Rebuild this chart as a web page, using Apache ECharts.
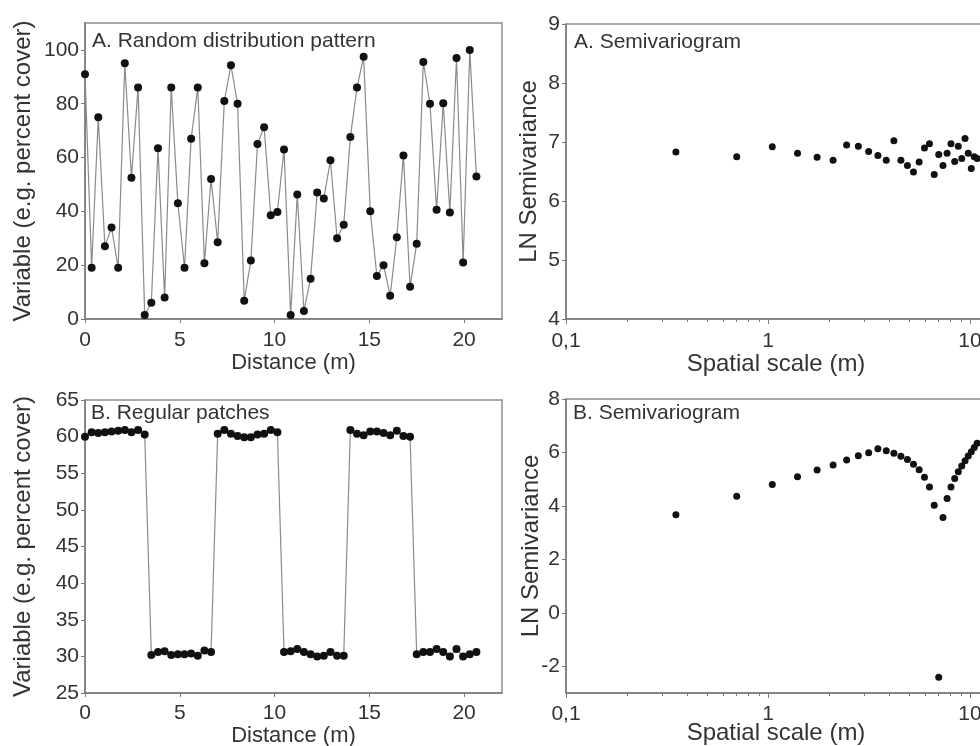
<!DOCTYPE html>
<html>
<head>
<meta charset="utf-8">
<script src="https://cdn.jsdelivr.net/npm/echarts@6/dist/echarts.min.js"></script>
<style>
html,body{margin:0;padding:0;background:#fff;}
#c{width:980px;height:746px;}
</style>
</head>
<body>
<div id="c"></div>
<script>
// ---- data ----
const distance = [0, 0.35, 0.7, 1.05, 1.4, 1.75, 2.1, 2.45, 2.8, 3.15, 3.5, 3.85, 4.2, 4.55, 4.9, 5.25, 5.6, 5.95, 6.3, 6.65,
  7, 7.35, 7.7, 8.05, 8.4, 8.75, 9.1, 9.45, 9.8, 10.15, 10.5, 10.85, 11.2, 11.55, 11.9, 12.25, 12.6, 12.95, 13.3, 13.65,
  14, 14.35, 14.7, 15.05, 15.4, 15.75, 16.1, 16.45, 16.8, 17.15, 17.5, 17.85, 18.2, 18.55, 18.9, 19.25, 19.6, 19.95, 20.3, 20.65];
const randomValues = [91, 19, 75, 27, 34, 19, 95, 52.5, 86, 1.5, 6, 63.5, 8, 86, 43, 19, 67, 86, 20.7, 52,
  28.5, 81, 94.3, 80, 6.8, 21.7, 65, 71.3, 38.6, 39.8, 63, 1.5, 46.3, 3, 15, 47, 44.8, 59, 30, 35,
  67.6, 86, 97.5, 40, 16, 20, 8.6, 30.4, 60.8, 12, 28, 95.5, 80, 40.6, 80.2, 39.6, 97, 21, 100, 53];
const patchValues = [60.0, 60.6, 60.5, 60.6, 60.7, 60.8, 60.9, 60.6, 60.9, 60.3,
  30.2, 30.6, 30.7, 30.2, 30.3, 30.3, 30.4, 30.1, 30.8, 30.6,
  60.4, 60.9, 60.4, 60.1, 59.9, 59.9, 60.3, 60.4, 60.9, 60.6,
  30.6, 30.7, 31.0, 30.6, 30.3, 30.0, 30.1, 30.6, 30.1, 30.1,
  60.9, 60.4, 60.2, 60.7, 60.7, 60.5, 60.2, 60.8, 60.1, 60.0,
  30.3, 30.6, 30.6, 31.0, 30.6, 30.0, 31.0, 30.0, 30.3, 30.6];
const lags = [0.35, 0.7, 1.05, 1.4, 1.75, 2.1, 2.45, 2.8, 3.15, 3.5, 3.85, 4.2, 4.55, 4.9, 5.25, 5.6,
  5.95, 6.3, 6.65, 7, 7.35, 7.7, 8.05, 8.4, 8.75, 9.1, 9.45, 9.8, 10.15, 10.5, 10.85];
const semiRandom = [6.83, 6.75, 6.92, 6.81, 6.74, 6.69, 6.95, 6.93, 6.84, 6.77, 6.69, 7.02, 6.69, 6.60, 6.49, 6.66,
  6.90, 6.97, 6.45, 6.79, 6.60, 6.81, 6.97, 6.67, 6.93, 6.72, 7.06, 6.81, 6.55, 6.75, 6.72];
const semiPatches = [3.67, 4.36, 4.80, 5.09, 5.34, 5.53, 5.72, 5.88, 5.99, 6.14, 6.06, 5.97, 5.86, 5.74, 5.56, 5.35,
  5.07, 4.71, 4.02, -2.41, 3.57, 4.28, 4.71, 5.03, 5.28, 5.49, 5.69, 5.87, 6.03, 6.19, 6.34];

const distTicks = [0, 5, 10, 15, 20];
const randomTicks = [0, 20, 40, 60, 80, 100];
const patchTicks = [25, 30, 35, 40, 45, 50, 55, 60, 65];
const semiRandomTicks = [4, 5, 6, 7, 8, 9];
const semiPatchTicks = [-2, 0, 2, 4, 6, 8];
const logTicks = [0.1, 1, 10];
const logMinorTicks = [0.2, 0.3, 0.4, 0.5, 0.6, 0.7, 0.8, 0.9, 2, 3, 4, 5, 6, 7, 8, 9];

const titles = ['A. Random distribution pattern', 'A. Semivariogram', 'B. Regular patches', 'B. Semivariogram'];

// ---- chart ----
const FONT = 'Liberation Sans, Arial, sans-serif';
const TXT = '#333';
const AX = '#7a7a7a';
const chart = echarts.init(document.getElementById('c'));

const zip = (xs, ys) => xs.map((x, i) => [x, ys[i]]);
const comma = v => String(v).replace('.', ',');

function linX(grid, gap, margin) {
  return {
    type: 'value', gridIndex: grid, min: 0, max: 22,
    name: 'Distance (m)', nameLocation: 'middle', nameGap: gap, nameMoveOverlap: false,
    nameTextStyle: { fontFamily: FONT, fontSize: 22, color: TXT },
    axisLine: { show: true, onZero: false, lineStyle: { color: AX, width: 1.5 } },
    axisTick: { show: true, length: 4, customValues: distTicks, lineStyle: { color: AX } },
    axisLabel: { customValues: distTicks, fontFamily: FONT, fontSize: 21, color: TXT, margin: margin },
    splitLine: { show: false }
  };
}
function logX(grid, gap, margin) {
  return {
    type: 'log', gridIndex: grid, min: 0.1, max: 12, logBase: 10,
    name: 'Spatial scale (m)', nameLocation: 'middle', nameGap: gap, nameMoveOverlap: false,
    nameTextStyle: { fontFamily: FONT, fontSize: 24, color: TXT },
    axisLine: { show: true, onZero: false, lineStyle: { color: AX, width: 1.5 } },
    axisTick: { show: true, length: 5, customValues: logTicks, lineStyle: { color: AX } },
    axisLabel: { customValues: logTicks, fontFamily: FONT, fontSize: 21, color: TXT, margin: margin, formatter: comma },
    splitLine: { show: false }
  };
}
function logMinor(grid) {
  return {
    type: 'log', gridIndex: grid, min: 0.1, max: 12, logBase: 10, position: 'bottom',
    axisLine: { show: false, onZero: false },
    axisTick: { show: true, length: 3, customValues: logMinorTicks, lineStyle: { color: AX } },
    axisLabel: { show: false },
    splitLine: { show: false }
  };
}
function yAxis(grid, min, max, ticks, name, gap, nameSize) {
  return {
    type: 'value', gridIndex: grid, min: min, max: max,
    name: name, nameLocation: 'middle', nameGap: gap, nameMoveOverlap: false,
    nameTextStyle: { fontFamily: FONT, fontSize: nameSize, color: TXT },
    axisLine: { show: true, onZero: false, lineStyle: { color: AX, width: 1.5 } },
    axisTick: { show: true, length: 4, customValues: ticks, lineStyle: { color: AX } },
    axisLabel: { customValues: ticks, fontFamily: FONT, fontSize: 21, color: TXT, margin: 6 },
    splitLine: { show: false }
  };
}

const gridBase = { show: true, borderColor: '#8f8f8f', borderWidth: 1.5, backgroundColor: 'transparent', outerBoundsMode: 'none', containLabel: false };

const option = {
  animation: false,
  backgroundColor: '#fff',
  grid: [
    Object.assign({ left: 85, top: 23, width: 417, height: 296 }, gridBase),
    Object.assign({ left: 566, top: 24, width: 420, height: 295 }, gridBase),
    Object.assign({ left: 85, top: 400, width: 417, height: 293 }, gridBase),
    Object.assign({ left: 566, top: 399, width: 420, height: 294 }, gridBase)
  ],
  title: [
    { text: titles[0], left: 92, top: 31 },
    { text: titles[1], left: 574, top: 32 },
    { text: titles[2], left: 91, top: 403 },
    { text: titles[3], left: 573, top: 403 }
  ].map(t => Object.assign(t, { padding: 0, textStyle: { fontFamily: FONT, fontSize: 21, fontWeight: 'normal', color: TXT } })),
  xAxis: [linX(0, 33, 11), logX(1, 33, 12), linX(2, 32, 10), logX(3, 28, 11), logMinor(1), logMinor(3)],
  yAxis: [
    yAxis(0, 0, 110, randomTicks, 'Variable (e.g. percent cover)', 50, 24),
    yAxis(1, 4, 9, semiRandomTicks, 'LN Semivariance', 25, 24),
    yAxis(2, 25, 65, patchTicks, 'Variable (e.g. percent cover)', 50, 24),
    yAxis(3, -3, 8, semiPatchTicks, 'LN Semivariance', 23, 24)
  ],
  series: [
    {
      type: 'line', xAxisIndex: 0, yAxisIndex: 0, data: zip(distance, randomValues),
      symbol: 'circle', symbolSize: 8, itemStyle: { color: '#111', opacity: 1 },
      lineStyle: { color: '#8a8a8a', width: 1.2 }
    },
    {
      type: 'scatter', xAxisIndex: 1, yAxisIndex: 1, data: zip(lags, semiRandom),
      symbol: 'circle', symbolSize: 7, itemStyle: { color: '#111', opacity: 1 }
    },
    {
      type: 'line', xAxisIndex: 2, yAxisIndex: 2, data: zip(distance, patchValues),
      symbol: 'circle', symbolSize: 8, itemStyle: { color: '#111', opacity: 1 },
      lineStyle: { color: '#8a8a8a', width: 1.2 }
    },
    {
      type: 'scatter', xAxisIndex: 3, yAxisIndex: 3, data: zip(lags, semiPatches),
      symbol: 'circle', symbolSize: 7, itemStyle: { color: '#111', opacity: 1 }
    }
  ]
};
chart.setOption(option);
</script>
</body>
</html>
